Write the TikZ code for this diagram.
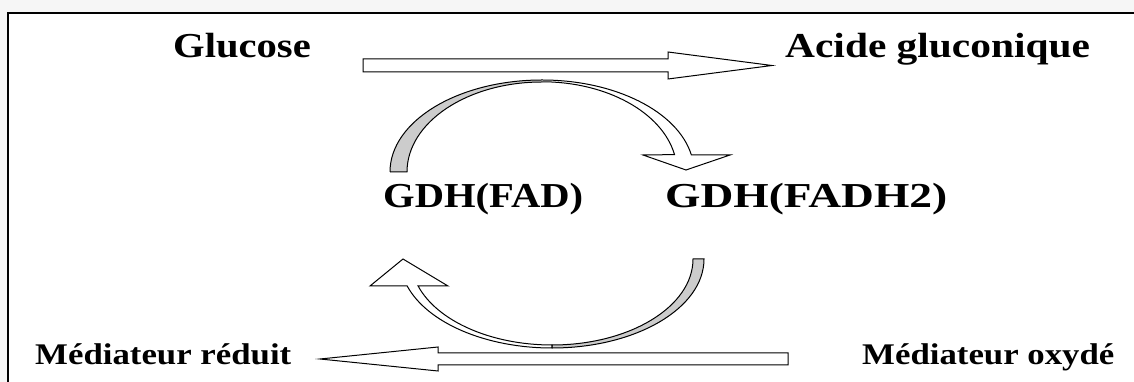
\documentclass[tikz,border=0pt]{standalone}
\usepackage{fontspec}
\setmainfont{Liberation Serif}[FakeStretch=1.16]
\begin{document}
\begin{tikzpicture}[x=1pt,y=1pt,
  big/.style={font=\fontsize{35}{40}\selectfont\bfseries, inner sep=0pt, anchor=base west},
  small/.style={font=\fontsize{30}{34}\selectfont\bfseries, inner sep=0pt, anchor=base west},
  blockarrow/.style={draw=black, line width=1pt, fill=white, line join=miter},
  backside/.style={draw=black, line width=1pt, fill=gray!40},
  frame/.style={draw=black, line width=2pt}]
\useasboundingbox (0,0) rectangle (1134,382);
\fill[gray!7] (0,0) rectangle (1134,382);
\fill[white] (8,0) rectangle (1134,369);
\draw[frame] (8,0) -- (8,369) -- (1134,369);

% texts
\node[big] (glu) at (173,324) {Glucose};
\node[big] (acid) at (785,324) {\scalebox{1.02}[1]{Acide gluconique}};
\node[big] (fad) at (383,174) {GDH(FAD)};
\node[big] (fadh) at (665,174) {\scalebox{1.12}[1]{GDH(FADH2)}};
\node[small] (red) at (35,17) {Médiateur réduit};
\node[small] (ox) at (862,17) {Médiateur oxydé};

% top straight arrow
\draw[blockarrow] (363,310) -- (668,310) -- (668,303) -- (772,316.5) -- (668,330) -- (668,323) -- (363,323) -- cycle;

% bottom straight arrow
\draw[blockarrow] (788,29) -- (438,29) -- (438,35) -- (320,23) -- (438,11) -- (438,17) -- (788,17) -- cycle;

% top curved arrow
\fill[gray!40] (390,210) arc[start angle=180,end angle=90,x radius=152,y radius=92]
  -- (542,300) arc[start angle=90,end angle=180,x radius=135,y radius=90] -- cycle;
\draw[line width=1pt] (390,210) arc[start angle=180,end angle=90,x radius=152,y radius=92];
\draw[line width=1pt] (542,300) arc[start angle=90,end angle=180,x radius=135,y radius=90] -- (390,210);
\fill[white] (542,302) arc[start angle=90,end angle=10.65,x radius=152,y radius=92]
  -- (730,227) -- (686,212) -- (643,227) -- (674.5,227.4)
  arc[start angle=11,end angle=90,x radius=135,y radius=90] -- cycle;
\draw[line width=1pt, line join=miter] (542,302) arc[start angle=90,end angle=10.65,x radius=152,y radius=92]
  -- (730,227) -- (686,212) -- (643,227) -- (674.5,227.4)
  arc[start angle=11,end angle=90,x radius=135,y radius=90];

% bottom curved arrow
\draw[backside] (704,123) arc[start angle=0,end angle=-90,x radius=152,y radius=89]
  -- (552,37) arc[start angle=-90,end angle=0,x radius=141,y radius=86] -- cycle;
\draw[blockarrow] (552,34) arc[start angle=270,end angle=197.66,x radius=152,y radius=89]
  -- (370,96) -- (403,123) -- (448,96) -- (418.1,96)
  arc[start angle=198.3,end angle=270,x radius=141,y radius=86] -- cycle;
\end{tikzpicture}
\end{document}
